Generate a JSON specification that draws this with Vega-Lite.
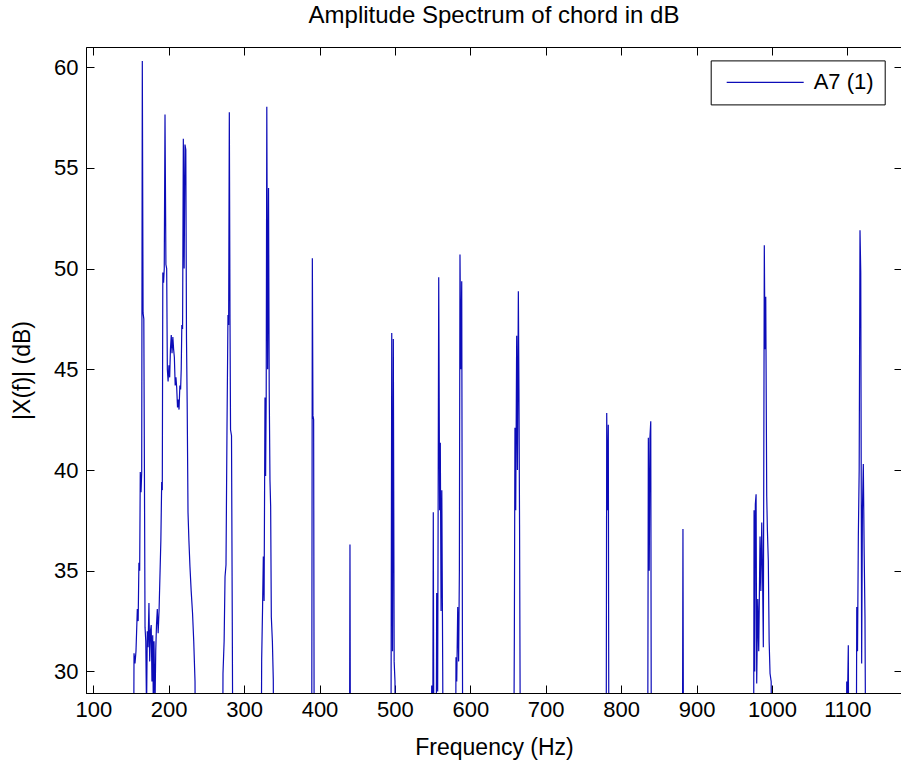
{
  "$schema": "https://vega.github.io/schema/vega-lite/v6.json",
  "autosize": {"type": "none"},
  "padding": {"left": 86, "top": 47, "right": 0, "bottom": 74},
  "width": 816,
  "height": 646,
  "background": "white",
  "title": {"text": "Amplitude Spectrum of chord in dB", "font": "Liberation Sans", "fontSize": 24, "fontWeight": "normal", "color": "black", "offset": 0, "baseline": "alphabetic"},
  "data": {"values": [
    {"f": 90, "db": 20},
    {"f": 153, "db": 20}, {"f": 154, "db": 30.9}, {"f": 155.3, "db": 30.4}, {"f": 156.6, "db": 31.0}, {"f": 158.4, "db": 33.1}, {"f": 159.5, "db": 32.5}, {"f": 160.5, "db": 35.4}, {"f": 161.5, "db": 35.0}, {"f": 162.3, "db": 39.9}, {"f": 163.3, "db": 38.9}, {"f": 164.2, "db": 39.9}, {"f": 165.0, "db": 60.3}, {"f": 166.0, "db": 47.8}, {"f": 167.0, "db": 47.5}, {"f": 167.8, "db": 40.0}, {"f": 168.6, "db": 32.2}, {"f": 169.6, "db": 31.5}, {"f": 170.6, "db": 28.0}, {"f": 171.6, "db": 32.0}, {"f": 172.6, "db": 31.2}, {"f": 173.8, "db": 33.4}, {"f": 174.8, "db": 30.5}, {"f": 175.8, "db": 32.0}, {"f": 176.8, "db": 32.3}, {"f": 177.8, "db": 29.5}, {"f": 178.8, "db": 31.8}, {"f": 179.6, "db": 28.3}, {"f": 180.5, "db": 31.5}, {"f": 181.8, "db": 28.2}, {"f": 182.8, "db": 31.0}, {"f": 183.8, "db": 32.3}, {"f": 184.9, "db": 33.1}, {"f": 186.0, "db": 31.9}, {"f": 187.2, "db": 33.0}, {"f": 188.5, "db": 34.9}, {"f": 189.6, "db": 36.5}, {"f": 190.7, "db": 39.4}, {"f": 191.5, "db": 39.0}, {"f": 192.2, "db": 49.8}, {"f": 193.2, "db": 49.3}, {"f": 194.1, "db": 50.0}, {"f": 195.1, "db": 57.65}, {"f": 196.3, "db": 50.2}, {"f": 197.3, "db": 50.0}, {"f": 198.2, "db": 45.0}, {"f": 199.2, "db": 44.4}, {"f": 200.3, "db": 45.2}, {"f": 201.3, "db": 44.6}, {"f": 202.3, "db": 46.0}, {"f": 203.4, "db": 46.7}, {"f": 204.4, "db": 45.8}, {"f": 205.5, "db": 46.6}, {"f": 206.5, "db": 46.0}, {"f": 207.5, "db": 45.6}, {"f": 208.6, "db": 44.2}, {"f": 209.6, "db": 44.6}, {"f": 210.6, "db": 44.1}, {"f": 211.7, "db": 43.1}, {"f": 212.7, "db": 43.5}, {"f": 213.7, "db": 43.0}, {"f": 214.8, "db": 44.2}, {"f": 215.8, "db": 44.0}, {"f": 216.6, "db": 45.0}, {"f": 217.4, "db": 47.2}, {"f": 218.4, "db": 47.0}, {"f": 219.4, "db": 56.44}, {"f": 220.5, "db": 50.0}, {"f": 221.6, "db": 56.16}, {"f": 222.7, "db": 55.9}, {"f": 223.6, "db": 46.5}, {"f": 224.5, "db": 43.3}, {"f": 225.6, "db": 37.9}, {"f": 226.8, "db": 36.5}, {"f": 228.2, "db": 35.2}, {"f": 229.8, "db": 34.0}, {"f": 231.6, "db": 32.9}, {"f": 233.2, "db": 31.5}, {"f": 234.9, "db": 29.5}, {"f": 236.2, "db": 20},
    {"f": 271, "db": 20}, {"f": 272, "db": 29.9}, {"f": 273.5, "db": 31.5}, {"f": 274.7, "db": 34.7}, {"f": 276, "db": 35.3}, {"f": 277.3, "db": 42.0}, {"f": 278.6, "db": 47.7}, {"f": 279.5, "db": 47.2}, {"f": 280.4, "db": 57.76}, {"f": 281.3, "db": 47.5}, {"f": 282, "db": 42.0}, {"f": 283.3, "db": 41.7}, {"f": 284.3, "db": 32.6}, {"f": 285.6, "db": 20},
    {"f": 322, "db": 20}, {"f": 323.3, "db": 30.6}, {"f": 324.5, "db": 33.2}, {"f": 325.5, "db": 35.7}, {"f": 326.5, "db": 33.5}, {"f": 327.7, "db": 43.6}, {"f": 328.5, "db": 39.7}, {"f": 329.3, "db": 43.6}, {"f": 330.1, "db": 58.03}, {"f": 331.2, "db": 45.0}, {"f": 332.4, "db": 54.0}, {"f": 333.3, "db": 44.0}, {"f": 334.3, "db": 39.5}, {"f": 335.2, "db": 38.2}, {"f": 336.1, "db": 32.7}, {"f": 337.5, "db": 31.5}, {"f": 338.7, "db": 29.6}, {"f": 340, "db": 20},
    {"f": 389.5, "db": 20}, {"f": 390.5, "db": 50.51}, {"f": 391.3, "db": 42.7}, {"f": 392.2, "db": 42.5}, {"f": 393.2, "db": 20},
    {"f": 439.5, "db": 20}, {"f": 440.4, "db": 36.3}, {"f": 441.3, "db": 20},
    {"f": 494.5, "db": 20}, {"f": 495.8, "db": 46.8}, {"f": 496.8, "db": 31}, {"f": 497.9, "db": 46.5}, {"f": 499, "db": 30.5}, {"f": 500.1, "db": 29.5}, {"f": 501, "db": 20},
    {"f": 547.5, "db": 20}, {"f": 548.8, "db": 29.3}, {"f": 549.8, "db": 20}, {"f": 550.9, "db": 37.9}, {"f": 552, "db": 20}, {"f": 554.3, "db": 20}, {"f": 555.4, "db": 33.9}, {"f": 556.7, "db": 29}, {"f": 558.1, "db": 49.57}, {"f": 559.3, "db": 38}, {"f": 560.2, "db": 41.35}, {"f": 561.2, "db": 33}, {"f": 562.2, "db": 39}, {"f": 563.4, "db": 30}, {"f": 564.5, "db": 20},
    {"f": 580, "db": 20}, {"f": 581, "db": 30.7}, {"f": 582, "db": 29.5}, {"f": 583.3, "db": 33.2}, {"f": 584.5, "db": 30.5}, {"f": 585.5, "db": 35}, {"f": 586.3, "db": 50.7}, {"f": 587.5, "db": 45}, {"f": 588.6, "db": 49.37}, {"f": 589.5, "db": 32}, {"f": 590.3, "db": 20},
    {"f": 657, "db": 20}, {"f": 658.4, "db": 31.8}, {"f": 659.2, "db": 42.1}, {"f": 660.2, "db": 38}, {"f": 661.5, "db": 46.67}, {"f": 662.5, "db": 40}, {"f": 663.7, "db": 48.87}, {"f": 664.5, "db": 44}, {"f": 665.3, "db": 37.3}, {"f": 666.8, "db": 20},
    {"f": 780, "db": 20}, {"f": 780.9, "db": 42.83}, {"f": 782, "db": 38}, {"f": 783, "db": 42.25}, {"f": 784, "db": 20},
    {"f": 835, "db": 20}, {"f": 836.1, "db": 41.6}, {"f": 837.3, "db": 35}, {"f": 838.2, "db": 41.6}, {"f": 839.3, "db": 42.42}, {"f": 840.3, "db": 20},
    {"f": 881, "db": 20}, {"f": 882, "db": 37.07}, {"f": 883, "db": 20},
    {"f": 975.5, "db": 20}, {"f": 976.3, "db": 38.0}, {"f": 977.2, "db": 30}, {"f": 978, "db": 38.3}, {"f": 979, "db": 38.8}, {"f": 979.8, "db": 29.4}, {"f": 981.2, "db": 33.6}, {"f": 982.5, "db": 31}, {"f": 983.3, "db": 33.6}, {"f": 984.2, "db": 36.7}, {"f": 985.3, "db": 34}, {"f": 986.5, "db": 37.4}, {"f": 987.5, "db": 35}, {"f": 988.6, "db": 31.2}, {"f": 989.9, "db": 51.16}, {"f": 990.8, "db": 46}, {"f": 991.8, "db": 48.6}, {"f": 993.1, "db": 38.7}, {"f": 994, "db": 37}, {"f": 995.2, "db": 35.5}, {"f": 996.3, "db": 31.5}, {"f": 997.5, "db": 29.9}, {"f": 999, "db": 29.5}, {"f": 1000.5, "db": 20},
    {"f": 1098, "db": 20}, {"f": 1099.2, "db": 29.5}, {"f": 1100.2, "db": 28.5}, {"f": 1101.3, "db": 31.3}, {"f": 1102.3, "db": 20}, {"f": 1111.5, "db": 20}, {"f": 1112.5, "db": 33.2}, {"f": 1113.5, "db": 31}, {"f": 1114.6, "db": 36.7}, {"f": 1115.7, "db": 40}, {"f": 1116.8, "db": 51.9}, {"f": 1117.8, "db": 49.8}, {"f": 1119, "db": 30.4}, {"f": 1120, "db": 38}, {"f": 1121.2, "db": 40.3}, {"f": 1122.3, "db": 36}, {"f": 1123.4, "db": 32.7}, {"f": 1125, "db": 20},
    {"f": 1172, "db": 20}
  ]},
  "layer": [
    {
      "mark": {"type": "line", "clip": true, "strokeWidth": 1.2},
      "encoding": {
        "x": {"field": "f", "type": "quantitative", "scale": {"domain": [90.32, 1172.5], "nice": false, "zero": false},
              "axis": {"orient": "bottom", "values": [100,200,300,400,500,600,700,800,900,1000,1100], "format": "d", "tickSize": -8, "labelPadding": 14, "title": "Frequency (Hz)", "titlePadding": 16, "labelOverlap": false, "labelFlush": false}},
        "y": {"field": "db", "type": "quantitative", "scale": {"domain": [28.93, 61.0], "nice": false, "zero": false},
              "axis": {"orient": "left", "values": [30,35,40,45,50,55,60], "format": "d", "tickSize": -8, "labelPadding": 16, "title": "|X(f)| (dB)", "titlePadding": 19, "labelOverlap": false, "labelFlush": false}},
        "color": {"datum": "A7 (1)", "scale": {"range": ["#0c0cb8"]},
                  "legend": {"orient": "none", "legendX": 624.7, "legendY": 13.4, "title": null, "strokeColor": "black", "fillColor": "white", "padding": 11, "symbolType": "M-3.85,0H3.85", "symbolSize": 400, "symbolStrokeWidth": 1.2, "symbolOffset": 32.5, "labelOffset": 37.5, "labelFont": "Liberation Sans", "labelFontSize": 22, "labelColor": "black"}}
      }
    },
    {
      "mark": {"type": "point", "opacity": 0},
      "encoding": {
        "x": {"field": "f", "type": "quantitative", "axis": {"orient": "top", "values": [100,200,300,400,500,600,700,800,900,1000,1100], "tickSize": -8, "labels": false, "domain": false, "title": null}},
        "y": {"field": "db", "type": "quantitative", "axis": {"orient": "right", "values": [30,35,40,45,50,55,60], "tickSize": -8, "labels": false, "domain": false, "title": null}}
      }
    }
  ],
  "resolve": {"axis": {"x": "independent", "y": "independent"}},
  "config": {
    "view": {"stroke": "black", "strokeWidth": 1},
    "axis": {"grid": false, "domainColor": "black", "tickColor": "black", "labelColor": "black", "titleColor": "black", "labelFont": "Liberation Sans", "titleFont": "Liberation Sans", "labelFontSize": 22, "titleFontSize": 23, "titleFontWeight": "normal", "domainWidth": 1, "tickWidth": 1}
  }
}
